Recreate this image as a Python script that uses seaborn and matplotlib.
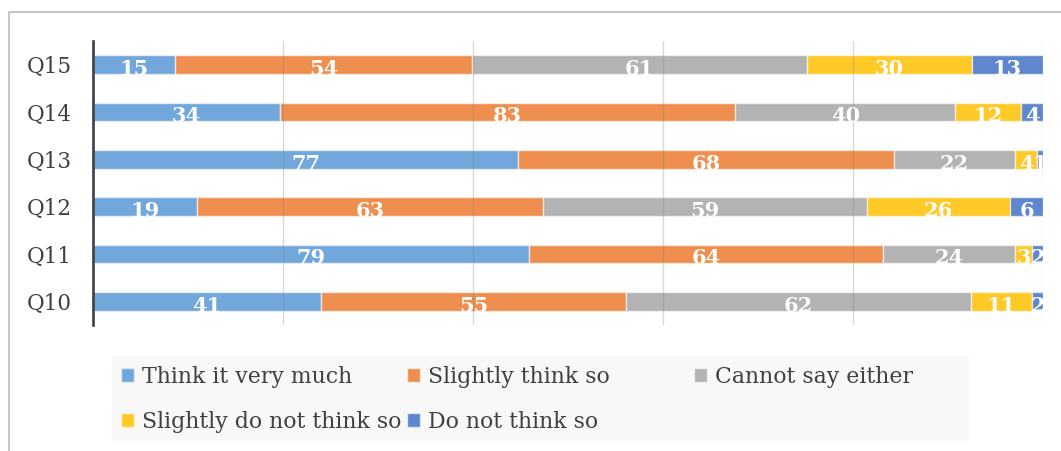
import numpy as np
import pandas as pd
import matplotlib
matplotlib.use('Agg')
import matplotlib.pyplot as plt
from matplotlib.patches import Patch, Rectangle
from matplotlib.lines import Line2D
import seaborn as sns

# ---- data ----
questions = ['Q15', 'Q14', 'Q13', 'Q12', 'Q11', 'Q10']
think_very_much = [15, 34, 77, 19, 79, 41]
slightly_think = [54, 83, 68, 63, 64, 55]
cannot_say = [61, 40, 22, 59, 24, 62]
slightly_not = [30, 12, 4, 26, 3, 11]
not_think = [13, 4, 1, 6, 2, 2]
series_names = ['Think it very much', 'Slightly think so', 'Cannot say either',
                'Slightly do not think so', 'Do not think so']
colors = ['#71A7DB', '#EF8F4F', '#B3B3B3', '#FFC928', '#5F87CD']

sns.set_style('white')
plt.rcParams['font.family'] = ['DejaVu Serif']

W, H = 1061, 451
fig = plt.figure(figsize=(W / 100, H / 100), dpi=100)
ax = fig.add_axes([93 / W, 1 - 325 / H, 950 / W, 284 / H])

counts = np.array([think_very_much, slightly_think, cannot_say, slightly_not, not_think], dtype=float)
totals = counts.sum(axis=0)
pct = counts / totals * 100

left = np.zeros(len(questions))
edge = (1, 1, 1, 0.6)
for i, (name, col) in enumerate(zip(series_names, colors)):
    df = pd.DataFrame({'q': questions, 'v': pct[i]})
    sns.barplot(data=df, x='v', y='q', order=questions, orient='h', color=col,
                saturation=1, width=0.4, left=left, edgecolor=edge, linewidth=1,
                errorbar=None, ax=ax)
    cont = ax.containers[-1]
    texts = ax.bar_label(cont, labels=[str(int(c)) for c in counts[i]], label_type='center',
                         color='white', fontsize=15, fontweight='bold', clip_on=True)
    for t in texts:
        t.xyann = (0, -3)
    left = left + pct[i]

ax.set_xlim(0, 100)
ax.set_ylim(5.5, -0.5)
ax.set_xticks([20, 40, 60, 80, 100])
ax.xaxis.grid(True, color='#808080', alpha=0.3, lw=1)
ax.yaxis.grid(False)
ax.set_axisbelow(False)
ax.tick_params(axis='x', labelbottom=False, length=0)
ax.tick_params(axis='y', length=0, pad=15, labelsize=15.5, labelcolor='#404040')
ax.set_xlabel('')
ax.set_ylabel('')
for s in ['top', 'right', 'bottom']:
    ax.spines[s].set_visible(False)
ax.spines['left'].set_color('#404040')
ax.spines['left'].set_linewidth(1.9)
ax.patch.set_alpha(0)

# legend background
fig.patches.append(Rectangle((112 / W, 1 - 441 / H), (969 - 112) / W, 85 / H,
                             transform=fig.transFigure, facecolor='#F8F8F8',
                             edgecolor='none', zorder=0))
col_x = [121, 407, 694]
row_y = [377, 422]
for k in range(5):
    r, c = divmod(k, 3)
    fig.legend(handles=[Patch(facecolor=colors[k], edgecolor=edge, label=series_names[k])],
               loc='center left', bbox_to_anchor=(col_x[c] / W, 1 - row_y[r] / H),
               frameon=False, borderaxespad=0, borderpad=0, handlelength=0.6,
               handleheight=0.6, handletextpad=0.35, fontsize=15.8, labelcolor='#404040')

# outer chart border
fig.add_artist(Line2D([9 / W, 9 / W, 1.01], [-0.01, 1 - 12 / H, 1 - 12 / H],
                      transform=fig.transFigure, color='#C0C0C0', lw=1.3))

fig.savefig('out.png', dpi=100)
